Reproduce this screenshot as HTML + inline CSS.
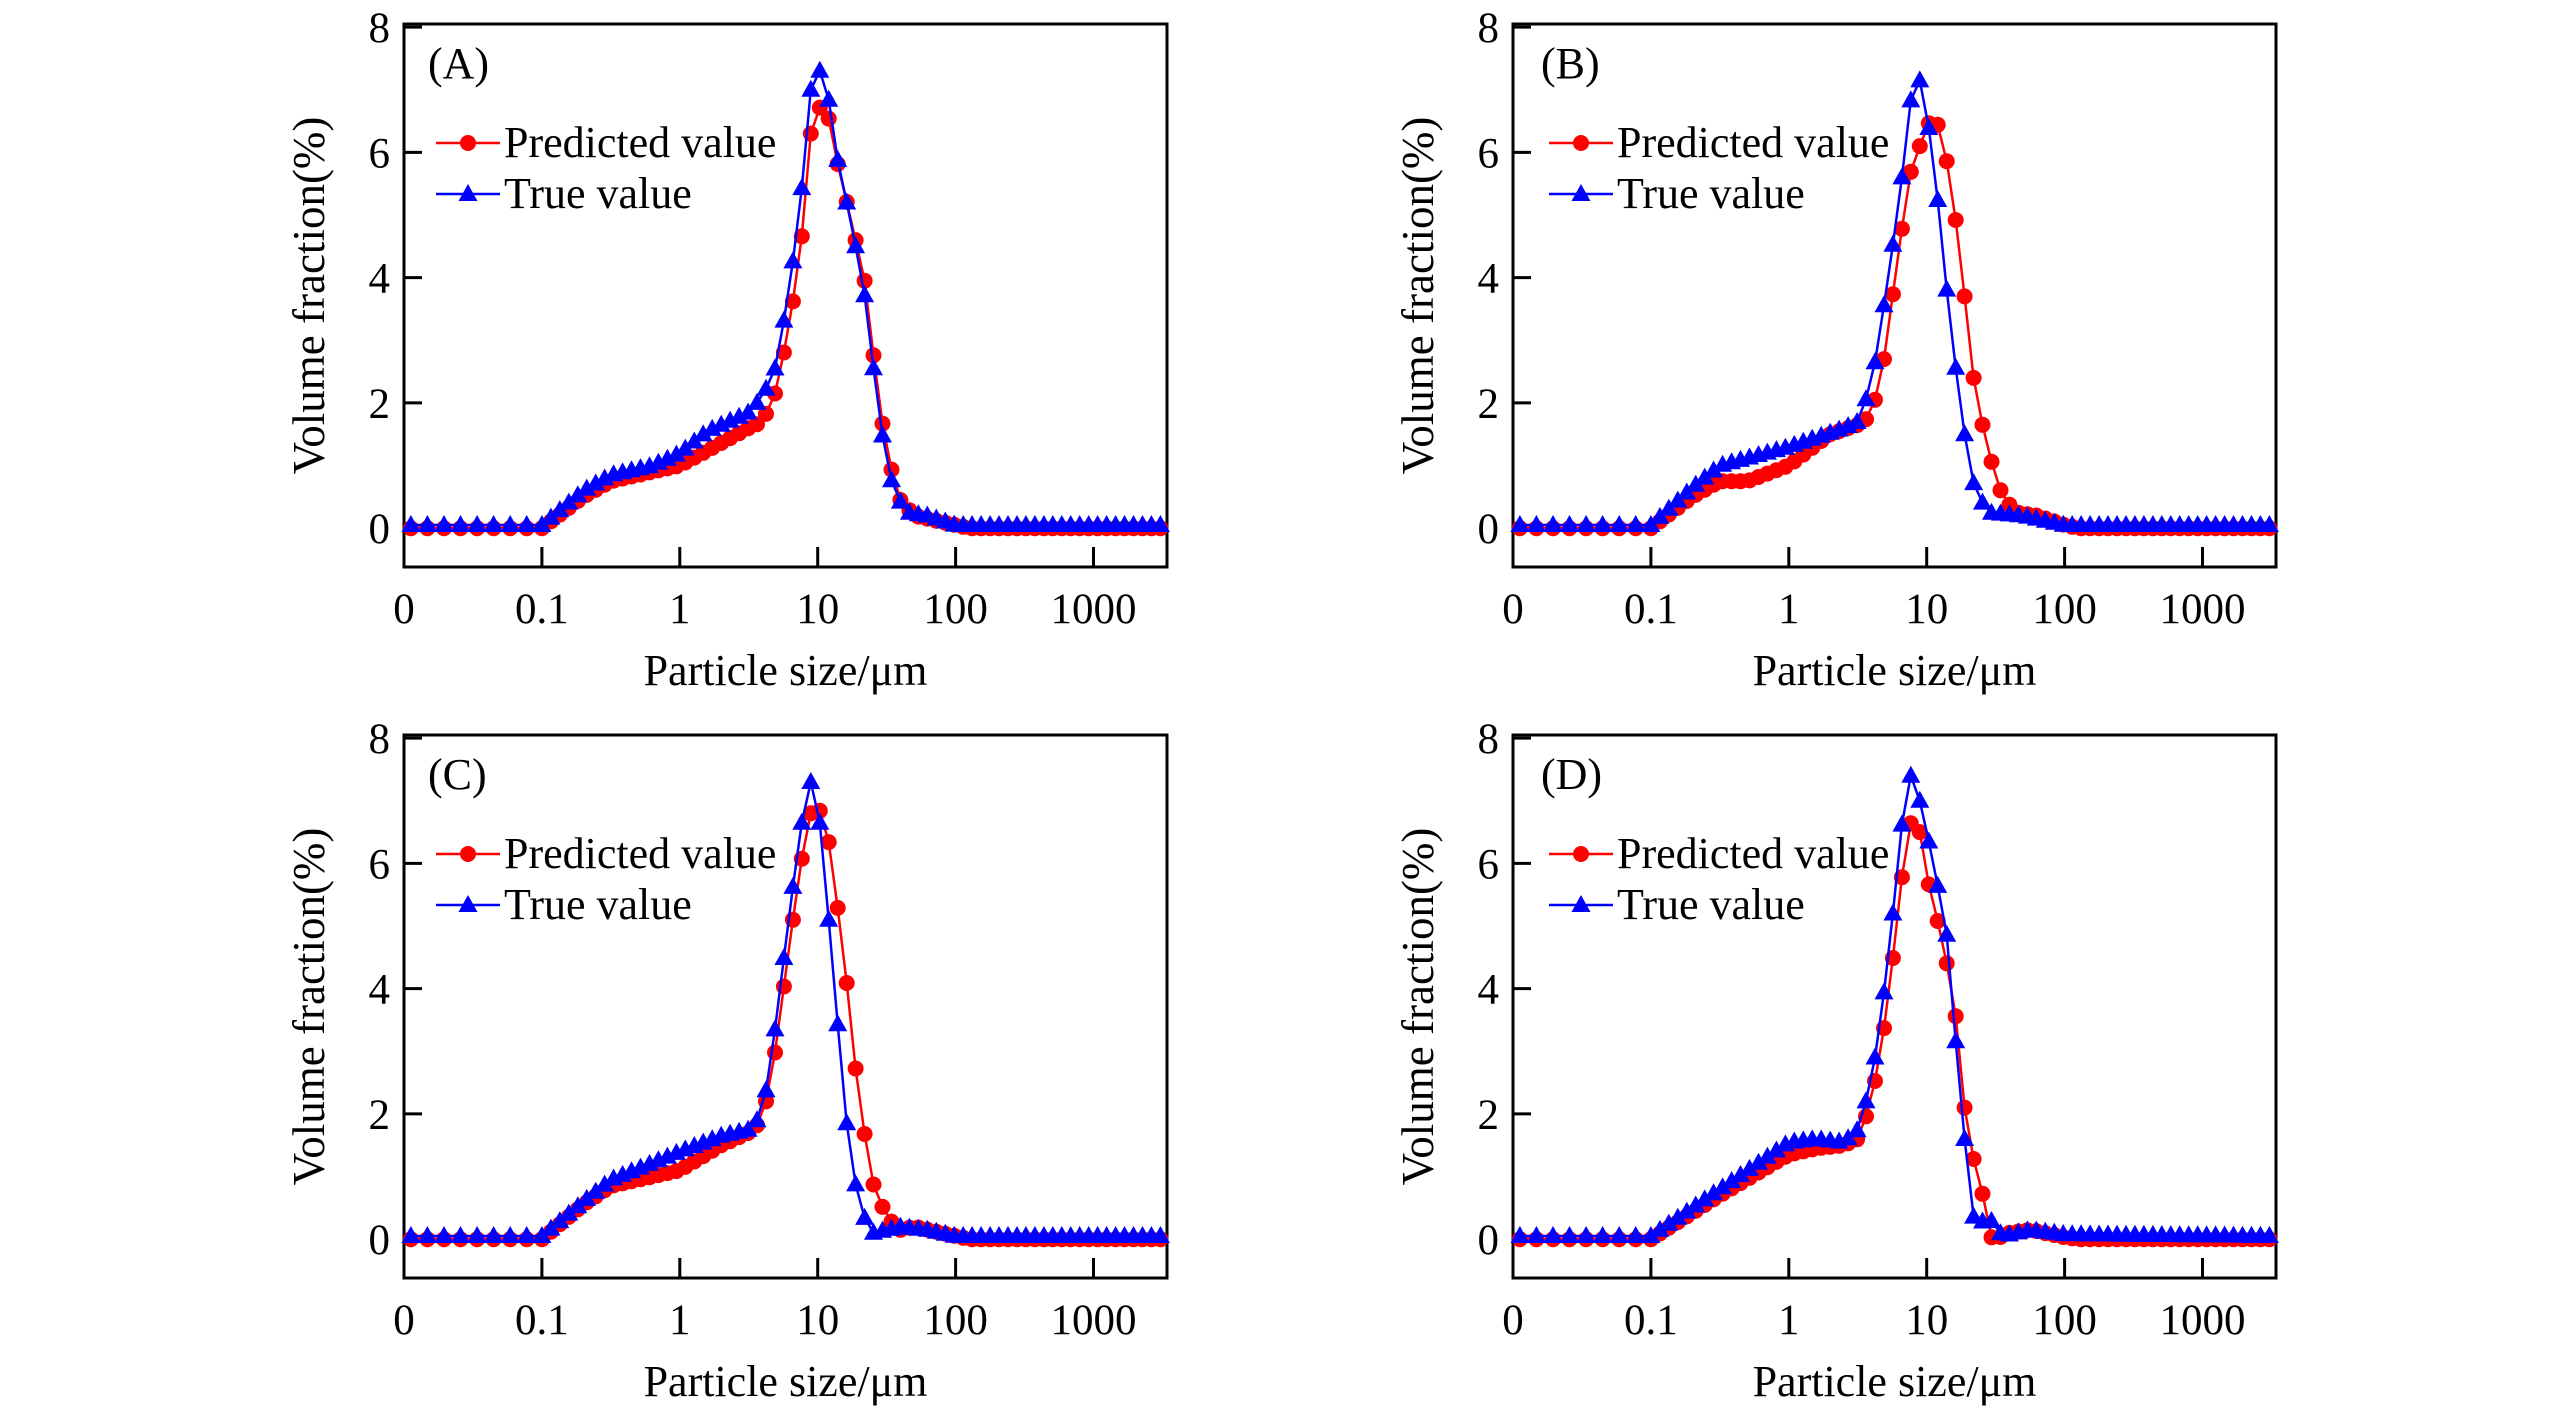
<!DOCTYPE html>
<html><head><meta charset="utf-8">
<style>
html,body{margin:0;padding:0;background:#fff;}
svg{display:block;}
text{font-family:"Liberation Serif",serif;fill:#000;}
</style></head>
<body>
<svg id="s" width="2567" height="1417" viewBox="0 0 2567 1417" xmlns="http://www.w3.org/2000/svg"></svg>
<script>
const S=document.getElementById('s');
let h='';
const panels=[
 {x:404,y:24,lab:'(A)',lx:24,
  t:[[-2,0.05],[-1,0.05],[-0.7,0.6],[-0.5,0.85],[-0.2,1.0],[0,1.2],[0.2,1.55],[0.4,1.75],[0.5,1.85],[0.6,2.1],[0.7,2.6],[0.8,3.9],[0.9,5.7],[0.95,7.0],[1.0,7.35],[1.05,7.2],[1.1,6.6],[1.15,5.8],[1.25,4.8],[1.35,3.6],[1.45,1.7],[1.55,0.6],[1.65,0.25],[1.8,0.2],[2.0,0.05],[3.6,0.05]],
  p:[[-2,0],[-1,0],[-0.7,0.5],[-0.5,0.75],[0,1.0],[0.5,1.6],[0.6,1.7],[0.7,2.2],[0.8,3.3],[0.9,4.9],[0.95,6.3],[1.0,6.7],[1.05,6.75],[1.1,6.4],[1.15,5.75],[1.25,4.85],[1.35,3.85],[1.4,2.85],[1.45,1.95],[1.5,1.25],[1.55,0.8],[1.6,0.45],[1.7,0.2],[2.0,0.05],[2.1,0],[3.6,0]]},
 {x:1513,y:24,lab:'(B)',lx:28,
  t:[[-2,0.05],[-1,0.05],[-0.7,0.65],[-0.5,1.0],[0,1.3],[0.4,1.6],[0.5,1.7],[0.6,2.3],[0.7,3.7],[0.8,5.2],[0.85,6.2],[0.9,7.1],[0.95,7.15],[1.0,6.6],[1.05,5.9],[1.15,3.7],[1.25,1.8],[1.35,0.6],[1.45,0.25],[1.7,0.2],[2.0,0.05],[3.6,0.05]],
  p:[[-2,0],[-1,0],[-0.7,0.5],[-0.5,0.75],[-0.3,0.75],[0,1.0],[0.3,1.5],[0.5,1.65],[0.6,1.8],[0.7,2.8],[0.8,4.5],[0.9,5.9],[0.95,6.1],[1.0,6.45],[1.05,6.5],[1.1,6.4],[1.15,5.8],[1.2,5.1],[1.25,4.2],[1.3,3.2],[1.35,2.2],[1.45,1.2],[1.55,0.5],[1.65,0.25],[1.8,0.2],[2.0,0.05],[2.1,0],[3.6,0]]},
 {x:404,y:735,lab:'(C)',lx:24,
  t:[[-2,0.05],[-1,0.05],[-0.7,0.6],[-0.5,0.95],[0,1.4],[0.3,1.65],[0.5,1.75],[0.6,2.0],[0.7,3.5],[0.8,5.3],[0.88,6.6],[0.95,7.3],[1.02,6.6],[1.1,4.6],[1.2,2.0],[1.3,0.5],[1.4,0.1],[1.6,0.2],[1.8,0.15],[2.0,0.05],[3.6,0.05]],
  p:[[-2,0],[-1,0],[-0.7,0.55],[-0.5,0.85],[0,1.1],[0.3,1.5],[0.5,1.7],[0.6,1.9],[0.7,3.1],[0.8,4.8],[0.9,6.3],[0.95,6.8],[1.0,6.9],[1.05,6.7],[1.1,6.1],[1.2,4.3],[1.3,2.2],[1.4,0.9],[1.5,0.35],[1.6,0.15],[1.7,0.2],[2.0,0.05],[2.1,0],[3.6,0]]},
 {x:1513,y:735,lab:'(D)',lx:28,
  t:[[-2,0.05],[-1,0.05],[-0.5,0.8],[0,1.55],[0.2,1.6],[0.4,1.55],[0.5,1.75],[0.6,2.5],[0.7,4.1],[0.8,6.1],[0.85,7.4],[0.9,7.4],[0.95,7.0],[1.05,6.0],[1.15,4.8],[1.2,3.4],[1.3,1.0],[1.35,0.2],[1.45,0.35],[1.55,0.05],[1.75,0.15],[2.0,0.08],[3.6,0.05]],
  p:[[-2,0],[-1,0],[-0.5,0.7],[0,1.35],[0.2,1.45],[0.4,1.5],[0.5,1.6],[0.6,2.2],[0.7,3.5],[0.8,5.3],[0.85,6.5],[0.9,6.7],[0.95,6.5],[1.0,5.8],[1.1,4.9],[1.2,3.8],[1.25,2.6],[1.3,1.6],[1.4,0.8],[1.45,0.05],[1.5,0.0],[1.6,0.1],[1.75,0.15],[2.0,0.03],[2.1,0],[3.6,0]]}
];
const W=763,H=543,ymin=-0.62,ymax=8.05,dec=137.9;
function interp(c,x){for(let i=0;i<c.length-1;i++){if(x>=c[i][0]&&x<=c[i+1][0]){const f=(x-c[i][0])/(c[i+1][0]-c[i][0]);return c[i][1]+f*(c[i+1][1]-c[i][1]);}}return c[c.length-1][1];}
const xs=[];for(let v=-1.95;v<-1;v+=0.12)xs.push(v);for(let v=-1;v<=3.52;v+=0.065)xs.push(v);
panels.forEach(P=>{
 const X=l=>P.x+(l+2)*dec, Y=v=>P.y+(ymax-v)/(ymax-ymin)*H;
 h+=`<rect x="${P.x}" y="${P.y}" width="${W}" height="${H}" fill="none" stroke="#000" stroke-width="3"/>`;
 [0,2,4,6,8].forEach(v=>{const y=Y(v);h+=`<line x1="${P.x}" x2="${P.x+18}" y1="${y}" y2="${y}" stroke="#000" stroke-width="3"/><text x="${P.x-14}" y="${y+15}" font-size="43" text-anchor="end">${v}</text>`;});
 ['0','0.1','1','10','100','1000'].forEach((t,i)=>{const x=X(i-2);if(i>0)h+=`<line x1="${x}" x2="${x}" y1="${P.y+H}" y2="${P.y+H-20}" stroke="#000" stroke-width="3"/>`;h+=`<text x="${x}" y="${P.y+H+56}" font-size="43" text-anchor="middle">${t}</text>`;});
 h+=`<text x="${P.x+W/2}" y="${P.y+H+118}" font-size="44" text-anchor="middle">Particle size/μm</text>`;
 h+=`<text transform="translate(${P.x-80},${P.y+H/2}) rotate(-90)" font-size="45" text-anchor="middle">Volume fraction(%)</text>`;
 h+=`<text x="${P.x+P.lx}" y="${P.y+54}" font-size="44">${P.lab}</text>`;
 const ser=[[P.p,'#f00','c'],[P.t,'#00f','t']];
 ser.forEach(([c,col,m])=>{
  const pts=xs.map(l=>[X(l),Y(interp(c,l))]);
  h+=`<polyline points="${pts.map(p=>p[0].toFixed(1)+','+p[1].toFixed(1)).join(' ')}" fill="none" stroke="${col}" stroke-width="2.5"/>`;
  pts.forEach(([x,y])=>{
   if(m==='c')h+=`<circle cx="${x.toFixed(1)}" cy="${y.toFixed(1)}" r="8" fill="${col}"/>`;
   else h+=`<polygon points="${x.toFixed(1)},${(y-10).toFixed(1)} ${(x-9.5).toFixed(1)},${(y+7).toFixed(1)} ${(x+9.5).toFixed(1)},${(y+7).toFixed(1)}" fill="${col}"/>`;
  });
 });
 const lx=P.x+P.lx+8, ly1=P.y+119, ly2=P.y+170;
 h+=`<line x1="${lx}" x2="${lx+64}" y1="${ly1}" y2="${ly1}" stroke="#f00" stroke-width="2.5"/><circle cx="${lx+32}" cy="${ly1}" r="8" fill="#f00"/>`;
 h+=`<text x="${lx+68}" y="${ly1+14}" font-size="44">Predicted value</text>`;
 h+=`<line x1="${lx}" x2="${lx+64}" y1="${ly2}" y2="${ly2}" stroke="#00f" stroke-width="2.5"/><polygon points="${lx+32},${ly2-10} ${lx+22.5},${ly2+7} ${lx+41.5},${ly2+7}" fill="#00f"/>`;
 h+=`<text x="${lx+68}" y="${ly2+14}" font-size="44">True value</text>`;
});
S.innerHTML=h;
</script>
</body></html>
